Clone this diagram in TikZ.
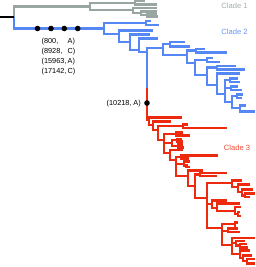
\documentclass[tikz,border=0pt]{standalone}
\usepackage{fontspec}
\setmainfont{Liberation Sans}
\usetikzlibrary{positioning}
\definecolor{cladegrey}{HTML}{98A5A1}
\definecolor{cladeblue}{HTML}{5588F4}
\definecolor{cladered}{HTML}{EE2A0E}

\begin{document}
\begin{tikzpicture}[x=1pt, y=-1pt, every node/.style={font=\fontsize{7.3}{10}\selectfont, inner sep=0pt},
  br/.style={line width=2.1pt}, mutdot/.style={circle, fill=black, minimum size=5.6pt, inner sep=0pt},
  cladelab/.style={font=\fontsize{7.6}{9}\selectfont}]
\useasboundingbox (0,0) rectangle (255,267);
% grey
\foreach \px/\py/\cx/\cy in {14/17/90/6.5, 90/6.5/135/3, 90/6.5/133/10, 135/3/145/1.2, 135/3/157/4.5,
  133/10/157/8, 133/10/141/13, 141/13/157/11.5, 141/13/147/15, 147/15/157/14, 147/15/158/16.5}
  \draw[br, cladegrey] (\px,\py) |- (\cx,\cy);
% blue
\foreach \px/\py/\cx/\cy in {14/17/104/28.5, 104/28.5/146/23, 104/28.5/119/34, 146/23/151/21, 146/23/159/25,
  119/34/153/30.5, 119/34/130/42, 130/42/150/34.5, 130/42/139/50, 139/50/158/38.5, 139/50/147/52,
  147/52/163/48, 163/48/170/44, 163/48/187/55, 170/44/185/42, 170/44/190/46.5,
  187/55/196/50.5, 187/55/195/63, 196/50.5/205/49, 196/50.5/227/52.5,
  195/63/207/60, 195/63/207/75, 207/60/213/58, 207/60/220/62,
  207/75/217/67.5, 207/75/217/85, 217/67.5/236/66, 217/67.5/245/69.5,
  217/85/240/73.5, 217/85/225/94, 225/94/230/80, 225/94/231/88, 225/94/232/102,
  230/80/238/78.5, 230/80/240/82, 231/88/238/86.5, 231/88/242/90,
  232/102/237/96, 232/102/240/108, 237/96/243/94.5, 237/96/242/98, 240/108/246/105.5, 240/108/255/111.5}
  \draw[br, cladeblue] (\px,\py) |- (\cx,\cy);
\draw[br, cladeblue] (147,52) -- (147,88);
% red
\draw[br, cladered] (147,88) |- (149,120);
\foreach \px/\py/\cx/\cy in {149/120/182/117.5, 149/120/153/125, 153/125/171/121.5, 153/125/158/130,
  158/130/183/126.3, 158/130/164/140, 183/126.3/188/124.5, 183/126.3/227/128,
  164/140/176/134, 164/140/172/143, 164/140/170/153, 176/134/183/132.5, 176/134/190/135.5,
  172/143/177/140.3, 172/143/178/146, 177/140.3/182/139, 177/140.3/183/141.5, 178/146/183/144.5, 178/146/184/147.5,
  170/153/183/150, 170/153/176/160, 176/160/181/157, 176/160/184/164, 176/160/188/176,
  181/157/218/155.5, 181/157/189/158.5, 184/164/190/161.5, 184/164/186/166, 186/166/188/164.8, 186/166/190/167.3,
  188/176/203/170.5, 188/176/195/186, 195/186/200/174.5, 195/186/207/198, 200/174.5/227/173, 200/174.5/217/176.3,
  207/198/232/183, 207/198/212/204, 207/198/222/228,
  232/183/242/180.5, 232/183/238/187, 238/187/250/184.5, 238/187/242/192,
  242/192/253/189.5, 242/192/245/195.5, 245/195.5/255/193.5, 245/195.5/250/197,
  212/204/227/200.5, 212/204/217/208, 217/208/240/203.5, 217/208/235/211,
  235/211/241/207, 235/211/238/214, 238/214/240/212, 238/214/241/216,
  222/228/235/224, 222/228/228/231, 222/228/232/245, 235/224/238/222.5, 235/224/236/225.5,
  228/231/238/228.5, 228/231/240/232, 232/245/255/238, 232/245/236/243, 232/245/240/254,
  236/243/245/241, 236/243/240/245.5, 240/245.5/247/244, 240/245.5/248/247.5,
  240/254/250/250.5, 240/254/243/258, 243/258/252/255.5, 243/258/247/261, 247/261/255/259, 247/261/255/263.5}
  \draw[br, cladered] (\px,\py) |- (\cx,\cy);
% root
\draw[br] (0,17) -- (14,17);
% mutations
\foreach \x [count=\i] in {37.5,51,64.3,77.7}
  \node[mutdot] (dotB\i) at (\x,28.5) {};
\node[anchor=north west] (mutB) at (41.5,36) {\begin{tabular}{@{}l@{\,}l@{}}(800, & A)\\(8928, & C)\\(15963, & A)\\(17142, & C)\end{tabular}};
\node[mutdot] (dotR) at (147,103) {};
\node[left=3pt of dotR, yshift=-0.8pt] (mutR) {(10218, A)};
% clades
\node[cladelab, text=cladegrey!90] (cl1) at (234.5,5.5) {Clade 1};
\node[cladelab, text=cladeblue!90] (cl2) at (234.5,32.2) {Clade 2};
\node[cladelab, text=cladered!85] (cl3) at (237,147.5) {Clade 3};
\end{tikzpicture}
\end{document}
